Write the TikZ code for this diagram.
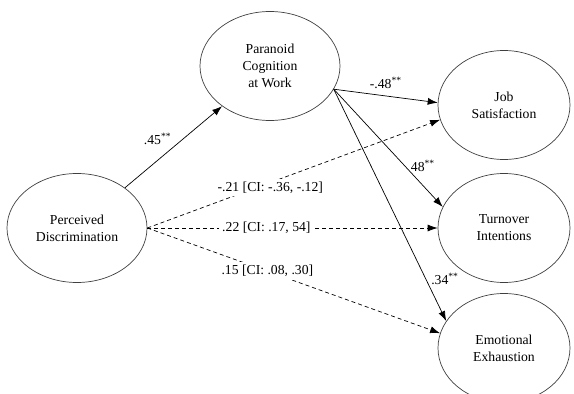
\documentclass[tikz,border=0pt]{standalone}
\usepackage{fontspec}
\setmainfont{Liberation Serif}
\usetikzlibrary{arrows.meta,shapes.geometric}

\begin{document}
\begin{tikzpicture}[x=1pt,y=-1pt,->,>={Latex[length=10pt,width=7pt]},
										line width=0.7pt,font=\fontsize{13.7}{17}\selectfont]
	\tikzstyle{construct}=[ellipse,draw=black!75,minimum width=140pt,minimum height=109pt,
										align=center,inner sep=0pt]
	\tikzstyle{indirect}=[dash pattern=on 4pt off 3pt]
	\tikzstyle{ci}=[fill=white,inner sep=3pt]

	\useasboundingbox (0,0) rectangle (574,394);

	\node[construct] (disc) at (77,228)  {Perceived\\Discrimination};
	\node[construct] (par)  at (270,66)  {Paranoid\\Cognition\\at Work};
	\node[construct,minimum width=132pt] (job)  at (504,105) {Job\\Satisfaction};
	\node[construct,minimum width=132pt] (turn) at (504,228) {Turnover\\Intentions};
	\node[construct,minimum width=132pt] (emo)  at (504,348) {Emotional\\Exhaustion};

	\coordinate (pout) at (par.-20);

	% direct paths
	\draw (disc) -- node[pos=0.5,above left,inner sep=2pt] {.45\textsuperscript{**}} (par);
	\draw (pout) -- node[midway,above,inner sep=7pt] {-.48\textsuperscript{**}} (job.178);
	\draw (pout) -- node[pos=0.65,right,inner sep=6pt] {48\textsuperscript{**}} (turn.161);
	\draw (pout) -- node[pos=0.82,right,inner sep=5pt] {.34\textsuperscript{**}} (emo.155);

	% indirect paths
	\draw[indirect] (disc.east) -- node[ci,pos=0.42,yshift=-5pt] {-.21 [CI: -.36, -.12]} (job.193);
	\draw[indirect] (disc.east) -- node[ci,pos=0.41] {.22 [CI: .17, 54]} (turn.west);
	\draw[indirect] (disc.east) -- node[ci,pos=0.41] {.15 [CI: .08, .30]} (emo.167);
\end{tikzpicture}
\end{document}
